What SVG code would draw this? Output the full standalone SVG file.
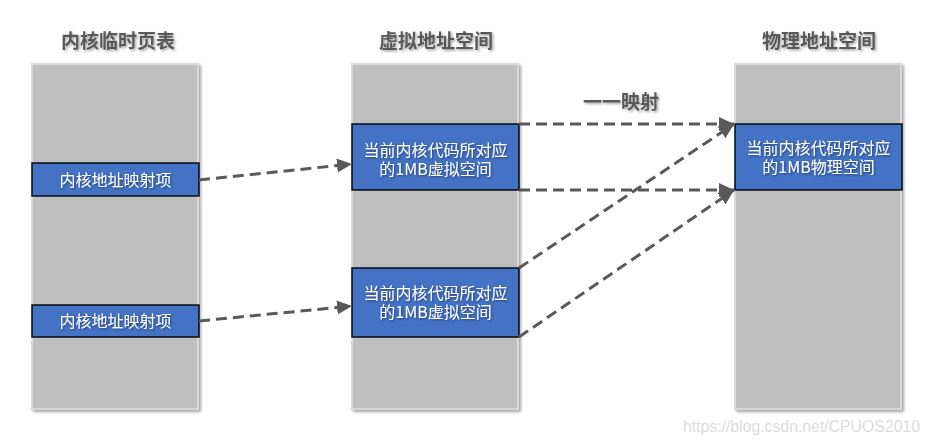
<svg xmlns="http://www.w3.org/2000/svg" width="930" height="445" viewBox="0 0 930 445">
<style>
.col{fill:#bfbfbf;stroke:#d9d9d9;stroke-width:2;filter:url(#sh)}
.box{fill:#4472c4;stroke:#000;stroke-width:1.4}
.title{font-family:"Noto Sans CJK SC","Microsoft YaHei",sans-serif;font-weight:bold;font-size:19px;fill:#595959;text-anchor:middle;filter:url(#tsh)}
.lbl{font-family:"Noto Sans CJK SC","Microsoft YaHei",sans-serif;font-size:16px;fill:#fff;text-anchor:middle;filter:url(#wsh)}
.conn{stroke:#595959;stroke-width:3;stroke-dasharray:11 6;fill:none;marker-end:url(#ah)}
.wm{font-family:"Liberation Sans",Arial,sans-serif;font-size:15.8px;fill:#dcdcdc;text-anchor:end}
</style>
<defs>
<filter id="sh" x="-10%" y="-10%" width="130%" height="130%"><feDropShadow dx="2" dy="2" stdDeviation="1.5" flood-color="#000" flood-opacity="0.35"/></filter>
<filter id="tsh" x="-10%" y="-30%" width="130%" height="170%"><feDropShadow dx="1.5" dy="1.5" stdDeviation="1.2" flood-color="#000" flood-opacity="0.35"/></filter>
<filter id="wsh" x="-10%" y="-30%" width="130%" height="170%"><feDropShadow dx="1" dy="1" stdDeviation="0.8" flood-color="#000" flood-opacity="0.45"/></filter>
<marker id="ah" markerUnits="userSpaceOnUse" markerWidth="18" markerHeight="16" refX="15" refY="7" orient="auto"><path d="M0,0 L15,7 L0,14 z" fill="#595959"/></marker>
</defs>
<g id="title-pt"><text class="title" x="118" y="48">内核临时页表</text></g>
<g id="title-va"><text class="title" x="436" y="48">虚拟地址空间</text></g>
<g id="title-pa"><text class="title" x="819" y="48">物理地址空间</text></g>
<g id="col-pt"><rect class="col" x="32" y="64" width="166" height="345"/></g>
<g id="col-va"><rect class="col" x="352" y="64" width="166" height="345"/></g>
<g id="col-pa"><rect class="col" x="735" y="64" width="166" height="345"/></g>
<g id="pte1"><rect class="box" x="32" y="163" width="167" height="33"/><text class="lbl" x="115.5" y="185.5">内核地址映射项</text></g>
<g id="pte2"><rect class="box" x="32" y="305" width="167" height="32"/><text class="lbl" x="115.5" y="327">内核地址映射项</text></g>
<g id="va1"><rect class="box" x="352" y="124" width="167" height="66"/><text class="lbl"><tspan x="435.5" y="155.5">当前内核代码所对应</tspan><tspan x="435.5" y="174.5">的1MB虚拟空间</tspan></text></g>
<g id="va2"><rect class="box" x="352" y="268" width="167" height="69"/><text class="lbl"><tspan x="435.5" y="298.5">当前内核代码所对应</tspan><tspan x="435.5" y="317.5">的1MB虚拟空间</tspan></text></g>
<g id="pa1"><rect class="box" x="735" y="124" width="167" height="66"/><text class="lbl"><tspan x="818.5" y="153.5">当前内核代码所对应</tspan><tspan x="818.5" y="172.5">的1MB物理空间</tspan></text></g>
<g id="connectors">
<line class="conn" x1="199" y1="180" x2="352" y2="164"/>
<line class="conn" x1="199" y1="321" x2="352" y2="306"/>
<line class="conn" x1="519" y1="124" x2="734" y2="124"/>
<line class="conn" x1="519" y1="190" x2="734" y2="190"/>
<line class="conn" x1="519" y1="268" x2="734" y2="124"/>
<line class="conn" x1="519" y1="337" x2="734" y2="190"/>
</g>
<g id="label-map"><text class="title" x="621" y="109">一一映射</text></g>
<text class="wm" x="920" y="432">https://blog.csdn.net/CPUOS2010</text>
</svg>
